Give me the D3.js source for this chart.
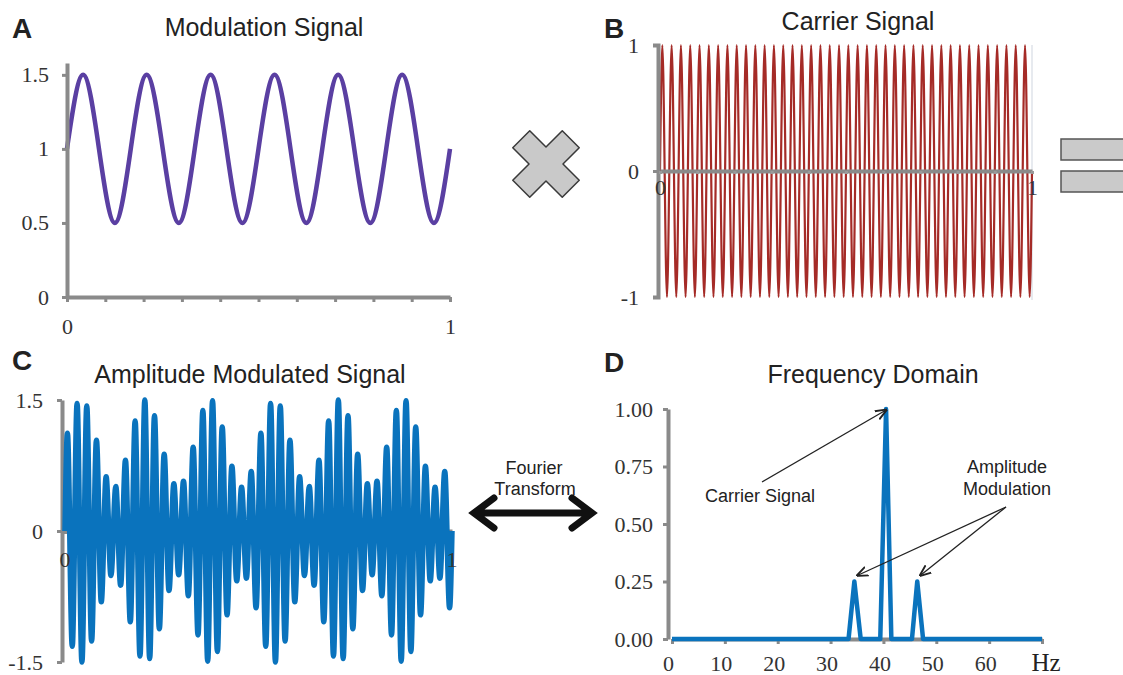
<!DOCTYPE html>
<html>
<head>
<meta charset="utf-8">
<script src="https://cdn.jsdelivr.net/npm/d3@7"></script>
<style>
  body { margin: 0; background: #fff; }
</style>
</head>
<body>
<svg id="fig" width="1123" height="675" font-family="Liberation Sans, Arial, sans-serif"></svg>
<script>
// ---- data ----
// A: modulation signal, turning points
const modT = [0, 0.042, 0.125, 0.208, 0.292, 0.375, 0.458, 0.542, 0.625, 0.708, 0.792, 0.875, 0.958, 1];
const modV = [1, 1.5, 0.5, 1.5, 0.5, 1.5, 0.5, 1.5, 0.5, 1.5, 0.5, 1.5, 0.5, 1];

// B and C: times of the carrier turning points (plus both ends)
const sigT = [0,
  0.00625, 0.01875, 0.03125, 0.04375, 0.05625, 0.06875, 0.08125, 0.09375, 0.10625, 0.11875,
  0.13125, 0.14375, 0.15625, 0.16875, 0.18125, 0.19375, 0.20625, 0.21875, 0.23125, 0.24375,
  0.25625, 0.26875, 0.28125, 0.29375, 0.30625, 0.31875, 0.33125, 0.34375, 0.35625, 0.36875,
  0.38125, 0.39375, 0.40625, 0.41875, 0.43125, 0.44375, 0.45625, 0.46875, 0.48125, 0.49375,
  0.50625, 0.51875, 0.53125, 0.54375, 0.55625, 0.56875, 0.58125, 0.59375, 0.60625, 0.61875,
  0.63125, 0.64375, 0.65625, 0.66875, 0.68125, 0.69375, 0.70625, 0.71875, 0.73125, 0.74375,
  0.75625, 0.76875, 0.78125, 0.79375, 0.80625, 0.81875, 0.83125, 0.84375, 0.85625, 0.86875,
  0.88125, 0.89375, 0.90625, 0.91875, 0.93125, 0.94375, 0.95625, 0.96875, 0.98125, 0.99375,
  1];

const carrierV = [0,
  1, -1, 1, -1, 1, -1, 1, -1, 1, -1, 1, -1, 1, -1, 1, -1, 1, -1, 1, -1,
  1, -1, 1, -1, 1, -1, 1, -1, 1, -1, 1, -1, 1, -1, 1, -1, 1, -1, 1, -1,
  1, -1, 1, -1, 1, -1, 1, -1, 1, -1, 1, -1, 1, -1, 1, -1, 1, -1, 1, -1,
  1, -1, 1, -1, 1, -1, 1, -1, 1, -1, 1, -1, 1, -1, 1, -1, 1, -1, 1, -1,
  0];

const amV = [0,
  1.12, -1.32, 1.46, -1.50, 1.43, -1.26, 1.04, -0.81, 0.62, -0.51,
  0.51, -0.62, 0.81, -1.04, 1.26, -1.43, 1.50, -1.46, 1.32, -1.12,
  0.88, -0.68, 0.54, -0.50, 0.57, -0.74, 0.96, -1.19, 1.38, -1.49,
  1.49, -1.38, 1.19, -0.96, 0.74, -0.57, 0.50, -0.54, 0.68, -0.88,
  1.12, -1.32, 1.46, -1.50, 1.43, -1.26, 1.04, -0.81, 0.62, -0.51,
  0.51, -0.62, 0.81, -1.04, 1.26, -1.43, 1.50, -1.46, 1.32, -1.12,
  0.88, -0.68, 0.54, -0.50, 0.57, -0.74, 0.96, -1.19, 1.38, -1.49,
  1.49, -1.38, 1.19, -0.96, 0.74, -0.57, 0.50, -0.54, 0.68, -0.88,
  0];

// D: spectrum
const freqHz = [0, 33.4, 34.5, 35.7, 39.4, 40.5, 41.5, 45.4, 46.4, 47.5, 70];
const freqAmp = [0, 0, 0.25, 0, 0, 1, 0, 0, 0.25, 0, 0];

// tick labels
const tenths = [0, 0.1, 0.2, 0.3, 0.4, 0.5, 0.6, 0.7, 0.8, 0.9, 1];
const modTicks = [0, 0.5, 1, 1.5];
const carrierTicks = [-1, 0, 1];
const amTicks = [-1.5, 0, 1.5];
const hzTicks = [0, 10, 20, 30, 40, 50, 60, 70];
const ampTicks = [0, 0.25, 0.5, 0.75, 1];

const svg = d3.select('#fig');
const grey = '#8a8a8a';
const serif = 'Liberation Serif, Times New Roman, serif';

function styleAxis(g) {
  g.attr('font-family', serif).attr('font-size', 22);
  g.select('.domain').attr('stroke', grey).attr('stroke-width', 4);
  g.selectAll('.tick line').attr('stroke', grey).attr('stroke-width', 3);
  g.selectAll('.tick text').attr('fill', '#333');
}

function label(x, y, txt, size, weight) {
  svg.append('text').attr('x', x).attr('y', y).attr('text-anchor', 'middle')
    .attr('font-size', size).attr('font-weight', weight || 'normal').attr('fill', '#222').text(txt);
}

function drawLine(xs, ys, xv, yv, color, width, curve) {
  const pts = xv.map((d, i) => [d, yv[i]]);
  svg.append('path')
    .attr('d', d3.line().x(d => xs(d[0])).y(d => ys(d[1])).curve(curve)(pts))
    .attr('fill', 'none').attr('stroke', color).attr('stroke-width', width)
    .attr('stroke-linejoin', 'round');
}

// ---------- A: Modulation signal ----------
label(22, 38, 'A', 28, 'bold');
label(264, 36, 'Modulation Signal', 25);
{
  const x = d3.scaleLinear().domain([0, 1]).range([67, 450]);
  const y = d3.scaleLinear().domain([0, 1.58]).range([297, 63]);
  drawLine(x, y, modT, modV, '#5a3fa2', 4.5, d3.curveMonotoneX);
  svg.append('g').attr('transform', 'translate(67,0)')
    .call(d3.axisLeft(y).tickValues(modTicks).tickFormat(d => d).tickSize(5).tickSizeOuter(0).tickPadding(13))
    .call(styleAxis);
  svg.append('g').attr('transform', 'translate(0,297)')
    .call(d3.axisBottom(x).tickValues(tenths).tickFormat(d => (d === 0 || d === 1) ? d : '')
      .tickSize(5).tickSizeOuter(0).tickPadding(16))
    .call(styleAxis);
}

// ---------- B: Carrier signal ----------
label(614, 38, 'B', 28, 'bold');
label(858, 30, 'Carrier Signal', 25);
{
  const x = d3.scaleLinear().domain([0, 1]).range([660, 1032]);
  const y = d3.scaleLinear().domain([-1, 1]).range([297, 45]);
  svg.append('line').attr('x1', 1032).attr('x2', 1032).attr('y1', 45).attr('y2', 300)
    .attr('stroke', '#dfe3ea').attr('stroke-width', 1.5);
  drawLine(x, y, sigT, carrierV, '#a52b27', 2.2, d3.curveMonotoneX);
  svg.append('g').attr('transform', 'translate(658,0)')
    .call(d3.axisLeft(y).tickValues(carrierTicks).tickFormat(d => d).tickSize(5).tickSizeOuter(5).tickPadding(14))
    .call(styleAxis);
  svg.append('g').attr('transform', 'translate(0,171)')
    .call(d3.axisBottom(x).tickValues(tenths).tickFormat(d => (d === 0 || d === 1) ? d : '')
      .tickSize(3).tickSizeOuter(0).tickPadding(5))
    .call(styleAxis)
    .call(g => g.selectAll('.tick line').attr('stroke', '#9a9a9a'));
}

// multiply sign
{
  const L = 35, w = 12;
  const cross = [[-w, -L], [w, -L], [w, -w], [L, -w], [L, w], [w, w], [w, L], [-w, L], [-w, w], [-L, w], [-L, -w], [-w, -w]];
  svg.append('polygon').attr('points', cross.map(p => p.join(',')).join(' '))
    .attr('transform', 'translate(546,164) rotate(45)')
    .attr('fill', '#c9c9c9').attr('stroke', '#3a3a3a').attr('stroke-width', 1.5).attr('stroke-linejoin', 'round');
}
// equals sign (cut off at the right edge)
svg.append('rect').attr('x', 1061).attr('y', 139).attr('width', 80).attr('height', 21)
  .attr('fill', '#cacaca').attr('stroke', '#555').attr('stroke-width', 1.5);
svg.append('rect').attr('x', 1061).attr('y', 171).attr('width', 80).attr('height', 21)
  .attr('fill', '#cacaca').attr('stroke', '#555').attr('stroke-width', 1.5);

// ---------- C: Amplitude modulated signal ----------
label(22, 370, 'C', 28, 'bold');
label(250, 383, 'Amplitude Modulated Signal', 25);
{
  const x = d3.scaleLinear().domain([0, 1]).range([65, 452]);
  const y = d3.scaleLinear().domain([-1.5, 1.5]).range([662, 400]);
  svg.append('g').attr('transform', 'translate(62,0)')
    .call(d3.axisLeft(y).tickValues(amTicks).tickFormat(d => d).tickSize(5).tickSizeOuter(0).tickPadding(14))
    .call(styleAxis);
  svg.append('g').attr('transform', 'translate(0,531)')
    .call(d3.axisBottom(x).tickValues([0, 1]).tickFormat('').tickSize(3).tickSizeOuter(0))
    .call(styleAxis);
  drawLine(x, y, sigT, amV, '#0a73bd', 5.5, d3.curveMonotoneX);
  // the 0 / 1 labels sit over the trace
  svg.selectAll('.clab').data([0, 1]).join('text').attr('class', 'clab')
    .attr('x', d => x(d)).attr('y', 567).attr('text-anchor', 'middle')
    .attr('font-family', serif).attr('font-size', 22).attr('fill', '#333').text(d => d);
}

// Fourier transform arrow
label(534, 474, 'Fourier', 18);
label(535, 495, 'Transform', 18);
svg.append('path')
  .attr('d', 'M476,513 L590,513 M494,498 L474,513 L494,528 M572,498 L592,513 L572,528')
  .attr('fill', 'none').attr('stroke', '#111').attr('stroke-width', 7)
  .attr('stroke-linecap', 'round').attr('stroke-linejoin', 'miter');

// ---------- D: Frequency domain ----------
label(614, 372, 'D', 28, 'bold');
label(873, 383, 'Frequency Domain', 25);
{
  const x = d3.scaleLinear().domain([0, 70]).range([672, 1042]);
  const y = d3.scaleLinear().domain([0, 1]).range([639, 409]);
  svg.append('g').attr('transform', 'translate(668,0)')
    .call(d3.axisLeft(y).tickValues(ampTicks).tickFormat(d3.format('.2f')).tickSize(5).tickSizeOuter(0).tickPadding(10))
    .call(styleAxis);
  svg.append('g').attr('transform', 'translate(0,639)')
    .call(d3.axisBottom(x).tickValues(hzTicks).tickFormat(d => d).tickSize(5).tickSizeOuter(0).tickPadding(11))
    .call(styleAxis)
    .call(g => g.selectAll('.tick text').attr('dx', -4))
    .call(g => g.selectAll('.tick').filter(d => d === 70).select('text').remove());
  drawLine(x, y, freqHz, freqAmp, '#0a73bd', 4.5, d3.curveLinear);
  svg.append('text').attr('x', 1046).attr('y', 671).attr('text-anchor', 'middle')
    .attr('font-family', serif).attr('font-size', 25).attr('fill', '#222').text('Hz');

  // annotations
  svg.append('defs').append('marker').attr('id', 'ah')
    .attr('viewBox', '0 0 10 10').attr('refX', 9).attr('refY', 5)
    .attr('markerWidth', 9).attr('markerHeight', 9).attr('orient', 'auto')
    .append('path').attr('d', 'M0,1 L10,5 L0,9').attr('fill', 'none').attr('stroke', '#222').attr('stroke-width', 1.6);
  const notes = [
    [762, 482, x(40.5), y(1) + 1],
    [1006, 507, x(34.5) + 3, y(0.25) - 6],
    [1006, 507, x(46.4) + 3, y(0.25) - 6]
  ];
  notes.forEach(n => {
    svg.append('line').attr('x1', n[0]).attr('y1', n[1]).attr('x2', n[2]).attr('y2', n[3])
      .attr('stroke', '#222').attr('stroke-width', 1.3).attr('marker-end', 'url(#ah)');
  });
  label(760, 502, 'Carrier Signal', 18);
  label(1007, 473, 'Amplitude', 18);
  label(1007, 495, 'Modulation', 18);
}
</script>
</body>
</html>
